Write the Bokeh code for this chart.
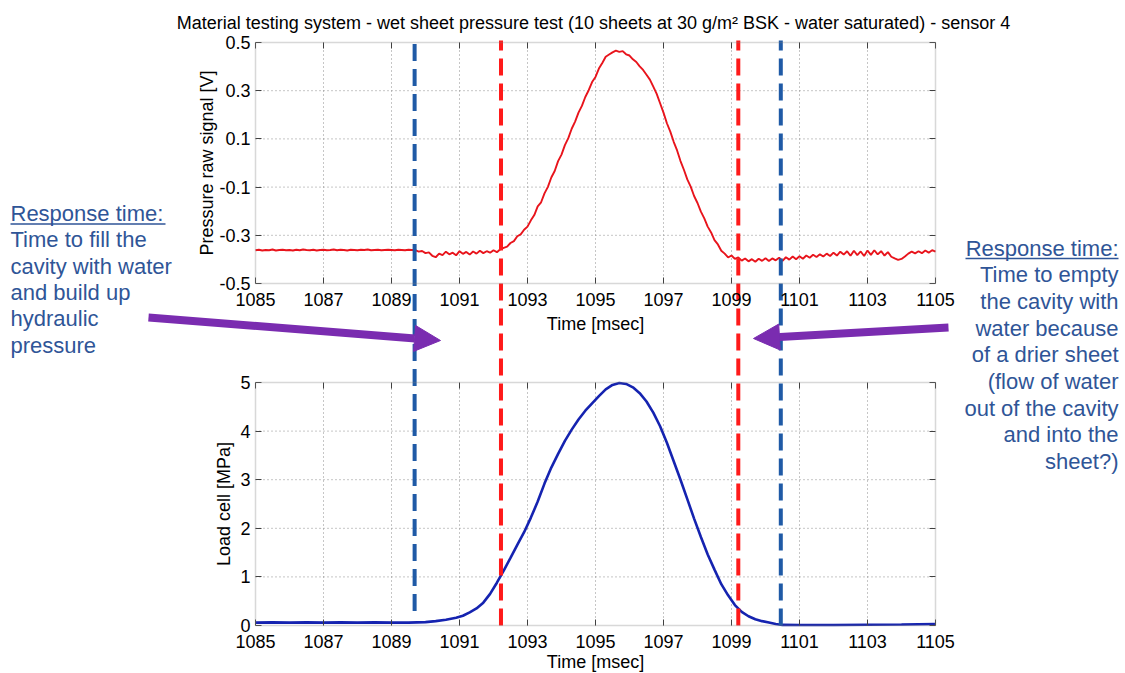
import numpy as np
from bokeh.plotting import figure
from bokeh.models import (Range1d, LinearAxis, FixedTicker, Label, Arrow,
                          NormalHead, BoxAnnotation)
from bokeh.embed import file_html
from bokeh.resources import INLINE

# ------------------------------------------------------------------ data
time_ticks = [1085, 1087, 1089, 1091, 1093, 1095, 1097, 1099, 1101, 1103, 1105]
time_tick_labels = ["1085", "1087", "1089", "1091", "1093", "1095",
                    "1097", "1099", "1101", "1103", "1105"]
pressure_ticks = [-0.5, -0.3, -0.1, 0.1, 0.3, 0.5]
pressure_tick_labels = ["-0.5", "-0.3", "-0.1", "0.1", "0.3", "0.5"]
load_ticks = [0, 1, 2, 3, 4, 5]
load_tick_labels = ["0", "1", "2", "3", "4", "5"]

# pressure raw signal [V], sampled every 0.1 ms from 1085.0 to 1105.0
pressure_t0 = 1085.0
pressure_dt = 0.1
pressure_v = [
    -0.362, -0.360, -0.363, -0.361, -0.362, -0.359, -0.363, -0.361, -0.360, -0.362,
    -0.361, -0.363, -0.360, -0.362, -0.359, -0.361, -0.362, -0.360, -0.363, -0.361,
    -0.360, -0.362, -0.361, -0.359, -0.362, -0.360, -0.361, -0.363, -0.360, -0.361,
    -0.362, -0.360, -0.361, -0.359, -0.362, -0.361, -0.360, -0.362, -0.361, -0.360,
    -0.361, -0.362, -0.360, -0.361, -0.362, -0.360, -0.361,
    -0.362, -0.368, -0.365, -0.374, -0.371, -0.385, -0.391, -0.376, -0.382, -0.368,
    -0.379, -0.372, -0.383, -0.366, -0.377, -0.369, -0.380, -0.367, -0.376, -0.364,
    -0.374, -0.366, -0.372, -0.362, -0.370, -0.358,
    -0.352, -0.347, -0.332, -0.324, -0.304, -0.296, -0.277, -0.264, -0.238, -0.216,
    -0.180, -0.163, -0.126, -0.099, -0.060, -0.033, 0.008, 0.035, 0.074, 0.103,
    0.142, 0.172, 0.209, 0.237, 0.274, 0.302, 0.336, 0.357, 0.392, 0.415,
    0.441, 0.450, 0.459, 0.466,
    0.461, 0.464, 0.451, 0.446, 0.430, 0.419, 0.401, 0.386, 0.366, 0.346,
    0.317, 0.287, 0.248, 0.209, 0.165, 0.130, 0.088, 0.052, 0.008, -0.028,
    -0.068, -0.098, -0.137, -0.166, -0.202, -0.230, -0.264, -0.288, -0.320, -0.338,
    -0.364, -0.376, -0.392, -0.384,
    -0.398, -0.392, -0.405, -0.396, -0.408, -0.399, -0.410, -0.397, -0.406, -0.395,
    -0.407, -0.396, -0.404, -0.393, -0.406, -0.391, -0.401, -0.388, -0.399, -0.387,
    -0.397, -0.384, -0.393, -0.381, -0.390, -0.379, -0.388, -0.376, -0.386, -0.372,
    -0.384, -0.368, -0.380, -0.366, -0.385, -0.364, -0.382, -0.367, -0.386, -0.363,
    -0.381, -0.362, -0.379, -0.366, -0.384, -0.370, -0.389, -0.396, -0.402, -0.398,
    -0.388, -0.376, -0.368, -0.375, -0.366, -0.374, -0.363, -0.372, -0.362, -0.368,
]
pressure_t = np.round(pressure_t0 + pressure_dt * np.arange(len(pressure_v)), 2)

# load cell [MPa]
load_t = [1085.0, 1085.5, 1086.0, 1086.5, 1087.0, 1087.5, 1088.0, 1088.5, 1089.0, 1089.5,
          1090.0, 1090.3, 1090.6, 1090.9, 1091.1, 1091.3, 1091.5, 1091.7, 1091.9, 1092.1,
          1092.3, 1092.5, 1092.7, 1092.9, 1093.1, 1093.3, 1093.5, 1093.7, 1093.9, 1094.1,
          1094.3, 1094.5, 1094.7, 1094.9, 1095.1, 1095.3, 1095.5, 1095.7, 1095.9, 1096.1,
          1096.3, 1096.5, 1096.7, 1096.9, 1097.1, 1097.3, 1097.5, 1097.7, 1097.9, 1098.1,
          1098.3, 1098.5, 1098.7, 1098.9, 1099.1, 1099.3, 1099.5, 1099.7, 1099.9, 1100.1,
          1100.3, 1100.5, 1101.0, 1102.0, 1103.0, 1104.0, 1105.0]
load_v = [0.06, 0.065, 0.06, 0.065, 0.06, 0.065, 0.06, 0.065, 0.06, 0.06,
          0.07, 0.09, 0.12, 0.16, 0.20, 0.27, 0.35, 0.47, 0.65, 0.88,
          1.13, 1.39, 1.66, 1.92, 2.22, 2.55, 2.92, 3.25, 3.53, 3.80,
          4.03, 4.24, 4.42, 4.57, 4.72, 4.86, 4.95, 4.99, 4.97, 4.90,
          4.78, 4.61, 4.38, 4.10, 3.76, 3.38, 3.00, 2.60, 2.20, 1.82,
          1.46, 1.15, 0.85, 0.62, 0.42, 0.28, 0.19, 0.13, 0.09, 0.06,
          0.03, 0.012, 0.01, 0.01, 0.015, 0.02, 0.03]

# response-time markers
marker_t = [1089.68, 1092.22, 1099.20, 1100.45]
marker_kind = ["blue", "red", "red", "blue"]

title_text = ("Material testing system - wet sheet pressure test "
              "(10 sheets at 30 g/m\u00b2 BSK - water saturated) - sensor 4")
x_label = "Time [msec]"
pressure_label = "Pressure raw signal [V]"
load_label = "Load cell [MPa]"
left_note = ["Response time:", "Time to fill the", "cavity with water",
             "and build up", "hydraulic", "pressure"]
right_note = ["Response time:", "Time to empty", "the cavity with",
              "water because", "of a drier sheet", "(flow of water",
              "out of the cavity", "and into the", "sheet?)"]

# ------------------------------------------------------------------ layout
W, H = 1125, 673
PL, PR = 255, 935                           # plot boxes, left/right pixels
P_TOP_PX, P_BOT_PX = 42, 283                # pressure panel
L_TOP_PX, L_BOT_PX = 382, 625               # load panel
X_MIN, X_MAX = time_ticks[0], time_ticks[-1]
P_MIN, P_MAX = pressure_ticks[0], pressure_ticks[-1]
L_MIN, L_MAX = load_ticks[0], load_ticks[-1]

x_per_px = (X_MAX - X_MIN) / (PR - PL)
load_per_px = (L_MAX - L_MIN) / (L_BOT_PX - L_TOP_PX)
press_per_px = (P_MAX - P_MIN) / (P_BOT_PX - P_TOP_PX)
# the frame covers the whole canvas, so that every annotation can be drawn
x_range = Range1d(X_MIN - PL * x_per_px, X_MAX + (W - PR) * x_per_px)
load_range = Range1d(L_MIN - (H - L_BOT_PX) * load_per_px, L_MAX + L_TOP_PX * load_per_px)
press_range = Range1d(P_MIN - (H - P_BOT_PX) * press_per_px, P_MAX + P_TOP_PX * press_per_px)


def xd(px):
    return X_MIN + (px - PL) * x_per_px


def yd(py):
    return L_MIN + (L_BOT_PX - py) * load_per_px


FONT = "Liberation Sans"
NOTE_BLUE = "#2f5597"
PURPLE = "#7a2cb0"
DASH_COLORS = {"blue": "#1f5aa6", "red": "#ff1a1a"}
BOX_COLOR = "#7f7f7f"
GRID_COLOR = "#8c8c8c"

p = figure(width=W, height=H, x_range=x_range, y_range=load_range,
           output_backend="svg", toolbar_location=None,
           x_axis_type=None, y_axis_type=None, title=None,
           min_border_left=0, min_border_right=0, min_border_top=0, min_border_bottom=0)
p.extra_y_ranges = {"press": press_range}
p.outline_line_color = None
p.background_fill_color = "white"
p.border_fill_color = "white"


# ------------------------------------------------------------------ axes
def add_axis(side, ticks, labels, fixed, y_range_name="default", show=True):
    ax = LinearAxis(ticker=FixedTicker(ticks=ticks, minor_ticks=[]),
                    fixed_location=fixed, y_range_name=y_range_name)
    ax.major_label_overrides = {t: (lab if show else "") for t, lab in zip(ticks, labels)}
    ax.axis_line_color = None
    ax.major_tick_in = 6
    ax.major_tick_out = 0
    ax.major_tick_line_color = "#404040"
    ax.major_tick_line_width = 1
    ax.minor_tick_line_color = None
    ax.major_label_text_font = FONT
    ax.major_label_text_font_size = "18px"
    ax.major_label_text_color = "black"
    ax.major_label_standoff = 9 if side in ("below", "above") else 5
    p.add_layout(ax, side)
    return ax


# pressure panel
add_axis("below", time_ticks, time_tick_labels, P_MIN, "press")
add_axis("above", time_ticks, time_tick_labels, P_MAX, "press", show=False)
add_axis("left", pressure_ticks, pressure_tick_labels, X_MIN, "press")
add_axis("right", pressure_ticks, pressure_tick_labels, X_MAX, "press", show=False)
# load panel
add_axis("below", time_ticks, time_tick_labels, L_MIN)
add_axis("above", time_ticks, time_tick_labels, L_MAX, show=False)
add_axis("left", load_ticks, load_tick_labels, X_MIN)
add_axis("right", load_ticks, load_tick_labels, X_MAX, show=False)

# ------------------------------------------------------------------ grids
vx = time_ticks[1:-1]
p.segment(x0=vx, x1=vx, y0=[P_MIN] * len(vx), y1=[P_MAX] * len(vx), y_range_name="press",
          line_color=GRID_COLOR, line_width=1, line_dash="1 3")
p.segment(x0=vx, x1=vx, y0=[L_MIN] * len(vx), y1=[L_MAX] * len(vx),
          line_color=GRID_COLOR, line_width=1, line_dash="1 3")
ph = pressure_ticks[1:-1]
p.segment(x0=[X_MIN] * len(ph), x1=[X_MAX] * len(ph), y0=ph, y1=ph, y_range_name="press",
          line_color=GRID_COLOR, line_width=1, line_dash="1 3")
lh = load_ticks[1:-1]
p.segment(x0=[X_MIN] * len(lh), x1=[X_MAX] * len(lh), y0=lh, y1=lh,
          line_color=GRID_COLOR, line_width=1, line_dash="1 3")

# ------------------------------------------------------------------ curves
p.line(pressure_t, pressure_v, y_range_name="press", line_color="#e8141c", line_width=1.9)
p.line(load_t, load_v, line_color="#1523b0", line_width=2.6)

# ------------------------------------------------------------------ marker lines
marker_bottom = [0.3 if (k == "blue" and i == 0) else 0.0 for i, k in enumerate(marker_kind)]
p.segment(x0=marker_t, x1=marker_t, y0=marker_bottom, y1=[yd(P_TOP_PX - 2)] * len(marker_t),
          line_color=[DASH_COLORS[k] for k in marker_kind], line_width=4, line_dash="17 8")

# ------------------------------------------------------------------ boxes
p.add_layout(BoxAnnotation(left=X_MIN, right=X_MAX, bottom=P_MIN, top=P_MAX, y_range_name="press",
                           fill_color=None, fill_alpha=0, line_color=BOX_COLOR, line_width=1.5))
p.add_layout(BoxAnnotation(left=X_MIN, right=X_MAX, bottom=L_MIN, top=L_MAX,
                           fill_color=None, fill_alpha=0, line_color=BOX_COLOR, line_width=1.5))


# ------------------------------------------------------------------ texts
def label(px, py, text, size=18, color="black", align="center", angle=0):
    # py is the vertical middle of the text line, in pixels from the top
    p.add_layout(Label(x=xd(px), y=yd(py), text=text, text_align=align,
                       text_baseline="middle", text_font=FONT, text_font_size=f"{size}px",
                       text_color=color, angle=angle, angle_units="deg"))


label(593, 22, title_text)
label((PL + PR) / 2, 323, x_label)
label((PL + PR) / 2, 661, x_label)
label(206, (P_TOP_PX + P_BOT_PX) / 2, pressure_label, angle=90)
label(223, (L_TOP_PX + L_BOT_PX) / 2, load_label, angle=90)

for i, line in enumerate(left_note):
    label(10, 213 + i * 26.3, line, size=22, color=NOTE_BLUE, align="left")
for i, line in enumerate(right_note):
    label(1118, 247.5 + i * 26.7, line, size=22, color=NOTE_BLUE, align="right")

# underlines of "Response time:"
for (a, b, yy) in [(10, 165, 223.5), (965, 1118, 258)]:
    p.add_layout(Arrow(x_start=xd(a), y_start=yd(yy), x_end=xd(b), y_end=yd(yy),
                       start=None, end=None, line_color=NOTE_BLUE, line_width=1.5))

# purple arrows
for (tx, ty), (hx, hy) in [((148, 317), (440, 340)), ((948, 327), (753, 338))]:
    p.add_layout(Arrow(x_start=xd(tx), y_start=yd(ty), x_end=xd(hx), y_end=yd(hy),
                       line_color=PURPLE, line_width=8,
                       end=NormalHead(size=26, fill_color=PURPLE, line_color=PURPLE,
                                      line_width=1)))

open("out.html", "w").write(file_html(p, INLINE))
